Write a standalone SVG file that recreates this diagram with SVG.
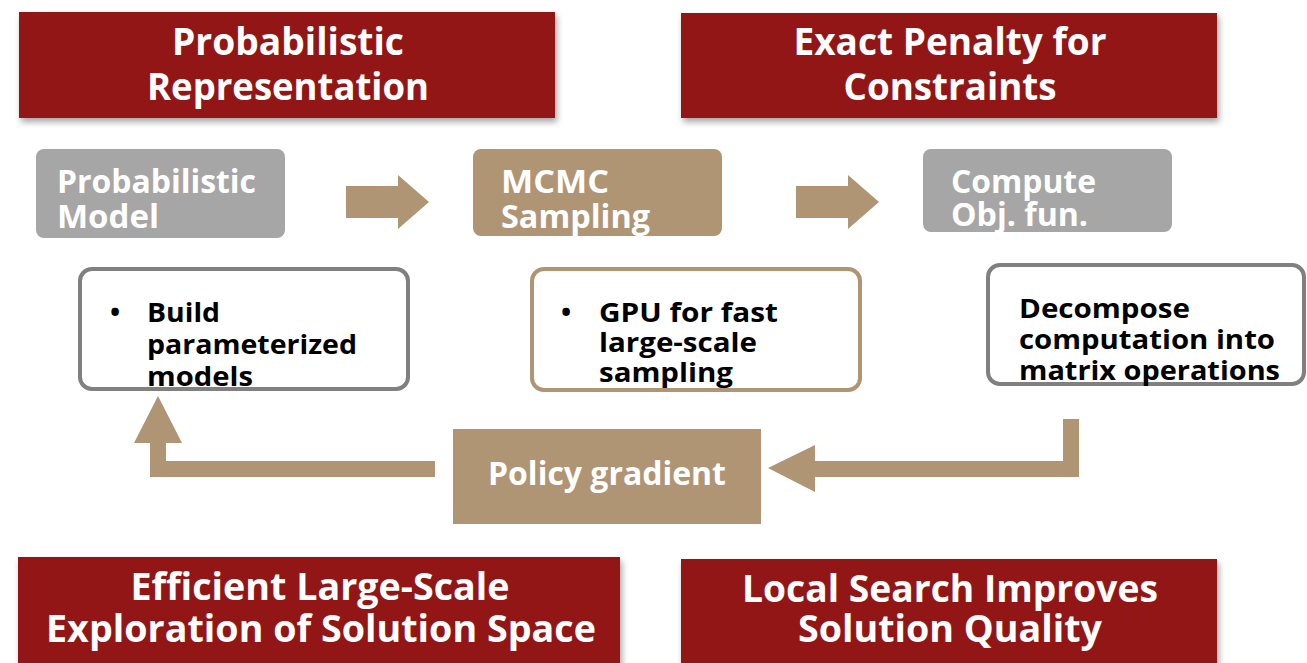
<svg xmlns="http://www.w3.org/2000/svg" width="1307" height="663" viewBox="0 0 1307 663">
  <defs>
    <filter id="shadow" x="-5%" y="-10%" width="112%" height="130%">
      <feDropShadow dx="2" dy="4" stdDeviation="3" flood-color="#000" flood-opacity="0.35"/>
    </filter>
    <style>
      .banner { fill: #931617; filter: url(#shadow); }
      .banner-text { font-family: "Open Sans", "Liberation Sans", sans-serif; font-weight: 700; font-size: 37px; fill: #fff; text-anchor: middle; }
      .step-grey { fill: #a6a6a6; }
      .step-tan { fill: #b09574; }
      .step-text { font-family: "Open Sans", "Liberation Sans", sans-serif; font-weight: 700; font-size: 33px; fill: #fff; }
      .note { fill: #fff; stroke-width: 4; }
      .note-grey { stroke: #808080; }
      .note-tan { stroke: #b09574; }
      .note-text { font-family: "Open Sans", "Liberation Sans", sans-serif; font-weight: 700; font-size: 27px; fill: #000; }
      .flow { fill: #b09574; }
      .flow-line { fill: none; stroke: #b09574; stroke-width: 16; }
    </style>
  </defs>

  <rect width="1307" height="663" fill="#fff"/>

  <!-- headline banners -->
  <g id="banner-prob-rep">
    <rect class="banner" x="19" y="12" width="536" height="106"/>
    <text class="banner-text" x="288" y="55" textLength="232" lengthAdjust="spacingAndGlyphs">Probabilistic</text>
    <text class="banner-text" x="288" y="100" textLength="282" lengthAdjust="spacingAndGlyphs">Representation</text>
  </g>
  <g id="banner-penalty">
    <rect class="banner" x="681" y="13" width="536" height="105"/>
    <text class="banner-text" x="950" y="55" textLength="313" lengthAdjust="spacingAndGlyphs">Exact Penalty for</text>
    <text class="banner-text" x="950" y="100" textLength="213" lengthAdjust="spacingAndGlyphs">Constraints</text>
  </g>
  <g id="banner-exploration">
    <rect class="banner" x="18" y="557" width="602" height="120"/>
    <text class="banner-text" x="320" y="600" textLength="379" lengthAdjust="spacingAndGlyphs">Efficient Large-Scale</text>
    <text class="banner-text" x="321" y="642" textLength="550" lengthAdjust="spacingAndGlyphs">Exploration of Solution Space</text>
  </g>
  <g id="banner-local-search">
    <rect class="banner" x="681" y="559" width="536" height="120"/>
    <text class="banner-text" x="950" y="602" textLength="416" lengthAdjust="spacingAndGlyphs">Local Search Improves</text>
    <text class="banner-text" x="950" y="642" textLength="304" lengthAdjust="spacingAndGlyphs">Solution Quality</text>
  </g>

  <!-- pipeline steps -->
  <g id="step-model">
    <rect class="step-grey" x="36" y="149" width="249" height="89" rx="8"/>
    <text class="step-text" x="57" y="193" textLength="199" lengthAdjust="spacingAndGlyphs">Probabilistic</text>
    <text class="step-text" x="57" y="228" textLength="102" lengthAdjust="spacingAndGlyphs">Model</text>
  </g>
  <g id="step-mcmc">
    <rect class="step-tan" x="473" y="149" width="249" height="87" rx="8"/>
    <text class="step-text" x="501" y="193" textLength="108" lengthAdjust="spacingAndGlyphs">MCMC</text>
    <text class="step-text" x="501" y="228" textLength="149" lengthAdjust="spacingAndGlyphs">Sampling</text>
  </g>
  <g id="step-objective">
    <rect class="step-grey" x="923" y="149" width="249" height="83" rx="8"/>
    <text class="step-text" x="951" y="193" textLength="145" lengthAdjust="spacingAndGlyphs">Compute</text>
    <text class="step-text" x="951" y="226" textLength="137" lengthAdjust="spacingAndGlyphs">Obj. fun.</text>
  </g>

  <!-- detail notes -->
  <g id="note-build">
    <rect class="note note-grey" x="80" y="269" width="328" height="120" rx="12"/>
    <text class="note-text" x="110" y="322">•</text>
    <text class="note-text" x="147" y="322" textLength="73" lengthAdjust="spacingAndGlyphs">Build</text>
    <text class="note-text" x="147" y="354" textLength="210" lengthAdjust="spacingAndGlyphs">parameterized</text>
    <text class="note-text" x="147" y="386" textLength="106" lengthAdjust="spacingAndGlyphs">models</text>
  </g>
  <g id="note-gpu">
    <rect class="note note-tan" x="532" y="269" width="328" height="121" rx="12"/>
    <text class="note-text" x="561" y="322">•</text>
    <text class="note-text" x="599" y="322" textLength="179" lengthAdjust="spacingAndGlyphs">GPU for fast</text>
    <text class="note-text" x="599" y="352" textLength="158" lengthAdjust="spacingAndGlyphs">large-scale</text>
    <text class="note-text" x="599" y="382" textLength="134" lengthAdjust="spacingAndGlyphs">sampling</text>
  </g>
  <g id="note-matrix">
    <rect class="note note-grey" x="988" y="265" width="316" height="119" rx="12"/>
    <text class="note-text" x="1019" y="318" textLength="171" lengthAdjust="spacingAndGlyphs">Decompose</text>
    <text class="note-text" x="1019" y="349" textLength="256" lengthAdjust="spacingAndGlyphs">computation into</text>
    <text class="note-text" x="1019" y="380" textLength="261" lengthAdjust="spacingAndGlyphs">matrix operations</text>
  </g>

  <g id="step-policy">
    <rect class="step-tan" x="453" y="429" width="308" height="95"/>
    <text class="step-text" x="488" y="485" font-size="32" textLength="238" lengthAdjust="spacingAndGlyphs">Policy gradient</text>
  </g>

  <!-- connectors -->
  <g id="connectors">
    <polygon class="flow" points="346,186 398,186 398,175 429,202 398,229 398,218 346,218"/>
    <polygon class="flow" points="796,186 848,186 848,175 879,202 848,229 848,218 796,218"/>
    <path class="flow-line" d="M1071,419 V469 H812"/>
    <polygon class="flow" points="815,445 768,468 815,492"/>
    <path class="flow-line" d="M435,469 H158 V440"/>
    <polygon class="flow" points="134,443 158,396 182,443"/>
  </g>
</svg>
